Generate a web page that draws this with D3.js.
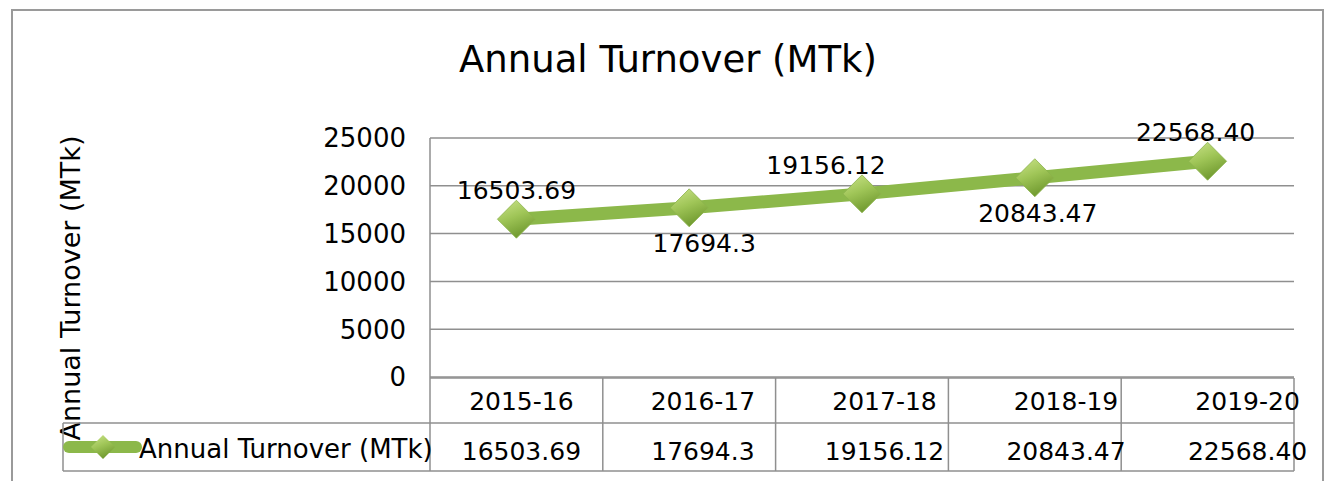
<!DOCTYPE html>
<html>
<head>
<meta charset="utf-8">
<script src="https://cdn.jsdelivr.net/npm/d3@7"></script>
<style>
    body { margin: 0; background: #fff; }
    text { font-family: "DejaVu Sans", Verdana, sans-serif; fill: #000; }
</style>
</head>
<body>
<div id="chart"></div>
<script>
// data
var years = ["2015-16", "2016-17", "2017-18", "2018-19", "2019-20"];
var turnover = [16503.69, 17694.3, 19156.12, 20843.47, 22568.40];
var turnoverText = ["16503.69", "17694.3", "19156.12", "20843.47", "22568.40"];
var yTicks = [0, 5000, 10000, 15000, 20000, 25000];
var seriesName = "Annual Turnover (MTk)";

// label nudges (layout only): side of the line and small x shift
var labelSide = [-1, 1, -1, 1, -1];
var labelShift = [0, 15, -36, 3, -12];

var svgWidth = 1329;
var svgHeight = 481;

var plot = { left: 430, right: 1294, top: 138, bottom: 377 };
var table = { top: 378, mid: 423, bottom: 471, legendLeft: 63 };

var svg = d3.select("#chart")
    .append("svg")
    .attr("width", svgWidth)
    .attr("height", svgHeight);

// outer frame
svg.append("rect")
    .attr("x", 12)
    .attr("y", 10)
    .attr("width", 1311)
    .attr("height", 480)
    .attr("fill", "none")
    .attr("stroke", "#9a9a9a")
    .attr("stroke-width", 2);

// gradient for the diamonds
var defs = svg.append("defs");
var grad = defs.append("linearGradient")
    .attr("id", "diamondFill")
    .attr("x1", 0.2).attr("y1", 0)
    .attr("x2", 0.6).attr("y2", 1);
grad.append("stop").attr("offset", "0%").attr("stop-color", "#c6e084");
grad.append("stop").attr("offset", "45%").attr("stop-color", "#9fc557");
grad.append("stop").attr("offset", "100%").attr("stop-color", "#6c962c");

// square diamond, r = half diagonal
function diamond(r) {
    return `M0,${-r}L${r},0L0,${r}L${-r},0Z`;
}

// scales
var xScale = d3.scaleBand()
    .domain(years)
    .range([plot.left, plot.right]);

var yScale = d3.scaleLinear()
    .domain([0, 25000])
    .range([plot.bottom, plot.top]);

// table text sits a bit wider than the bands in the picture
var xText = d3.scalePoint()
    .domain(years)
    .range([xScale(years[0]) + xScale.bandwidth() / 2 + 5,
            xScale(years[4]) + xScale.bandwidth() / 2 + 40]);

// title
svg.append("text")
    .attr("x", 668)
    .attr("y", 72)
    .attr("text-anchor", "middle")
    .attr("font-size", 37)
    .text("Annual Turnover (MTk)");

// gridlines + y tick labels
var gridColor = "#8f8f8f";
svg.append("g")
    .selectAll("line")
    .data(yTicks)
    .enter()
    .append("line")
    .attr("x1", plot.left)
    .attr("x2", plot.right)
    .attr("y1", d => yScale(d))
    .attr("y2", d => yScale(d))
    .attr("stroke", gridColor)
    .attr("stroke-width", 1.5);

svg.append("g")
    .selectAll("text")
    .data(yTicks)
    .enter()
    .append("text")
    .attr("x", 406)
    .attr("y", d => yScale(d))
    .attr("dy", "0.36em")
    .attr("text-anchor", "end")
    .attr("font-size", 26)
    .text(d => d);

// vertical axis line
svg.append("line")
    .attr("x1", plot.left).attr("x2", plot.left)
    .attr("y1", plot.top).attr("y2", table.bottom)
    .attr("stroke", gridColor)
    .attr("stroke-width", 1.5);

// y axis title
svg.append("text")
    .attr("transform", "translate(80, 288) rotate(-90)")
    .attr("text-anchor", "middle")
    .attr("font-size", 27)
    .text(seriesName);

// data table under the plot
var tableLines = svg.append("g")
    .attr("stroke", gridColor)
    .attr("stroke-width", 1.5);

tableLines.append("line")
    .attr("x1", plot.left).attr("x2", plot.right)
    .attr("y1", table.top).attr("y2", table.top);
tableLines.append("line")
    .attr("x1", table.legendLeft).attr("x2", plot.right)
    .attr("y1", table.mid).attr("y2", table.mid);
tableLines.append("line")
    .attr("x1", table.legendLeft).attr("x2", plot.right)
    .attr("y1", table.bottom).attr("y2", table.bottom);
tableLines.append("line")
    .attr("x1", table.legendLeft).attr("x2", table.legendLeft)
    .attr("y1", table.mid).attr("y2", table.bottom);

tableLines.selectAll(".cellEdge")
    .data(years)
    .enter()
    .append("line")
    .attr("class", "cellEdge")
    .attr("x1", d => xScale(d) + xScale.bandwidth())
    .attr("x2", d => xScale(d) + xScale.bandwidth())
    .attr("y1", table.top)
    .attr("y2", table.bottom);

svg.append("g")
    .selectAll("text")
    .data(years)
    .enter()
    .append("text")
    .attr("x", d => xText(d))
    .attr("y", 410)
    .attr("text-anchor", "middle")
    .attr("font-size", 25)
    .text(d => d);

svg.append("g")
    .selectAll("text")
    .data(years)
    .enter()
    .append("text")
    .attr("x", d => xText(d))
    .attr("y", 460)
    .attr("text-anchor", "middle")
    .attr("font-size", 25)
    .text((d, i) => turnoverText[i]);

// legend key in the table
var lineColor = "#8cb84a";
svg.append("line")
    .attr("x1", 69).attr("x2", 136)
    .attr("y1", 447).attr("y2", 447)
    .attr("stroke", lineColor)
    .attr("stroke-width", 12)
    .attr("stroke-linecap", "round");

svg.append("path")
    .attr("d", diamond(12))
    .attr("transform", "translate(103, 447)")
    .attr("fill", "url(#diamondFill)");

svg.append("text")
    .attr("x", 139)
    .attr("y", 458)
    .attr("font-size", 26)
    .text(seriesName);

// the line and markers
var points = years.map((d, i) => ({ year: d, value: turnover[i], label: turnoverText[i] }));

var line = d3.line()
    .x(d => xScale(d.year) + xScale.bandwidth() / 2)
    .y(d => yScale(d.value));

svg.append("path")
    .datum(points)
    .attr("d", line)
    .attr("fill", "none")
    .attr("stroke", lineColor)
    .attr("stroke-width", 13);

svg.append("g")
    .selectAll("path")
    .data(points)
    .enter()
    .append("path")
    .attr("d", diamond(19))
    .attr("transform", d => `translate(${xScale(d.year) + xScale.bandwidth() / 2}, ${yScale(d.value)})`)
    .attr("fill", "url(#diamondFill)")
    .attr("stroke", "#8bb24c")
    .attr("stroke-width", 0.8);

// data labels
svg.append("g")
    .selectAll("text")
    .data(points)
    .enter()
    .append("text")
    .attr("x", (d, i) => xScale(d.year) + xScale.bandwidth() / 2 + labelShift[i])
    .attr("y", (d, i) => yScale(d.value) + (labelSide[i] < 0 ? -20 : 44))
    .attr("text-anchor", "middle")
    .attr("font-size", 25)
    .text(d => d.label);
</script>
</body>
</html>
